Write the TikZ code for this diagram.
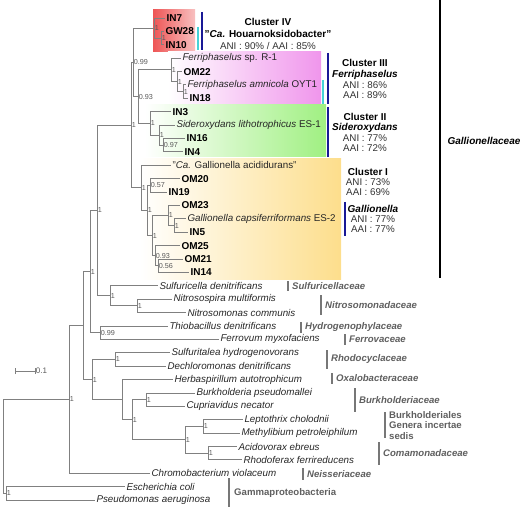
\documentclass[tikz,border=0pt]{standalone}
\usepackage{fontspec}
\setmainfont{Liberation Sans}
\definecolor{brc}{RGB}{128,128,128}
\definecolor{navyb}{RGB}{25,25,150}
\definecolor{cyanb}{RGB}{70,210,215}
\definecolor{famg}{RGB}{95,95,95}
\definecolor{redL}{RGB}{238,85,85}
\definecolor{redR}{RGB}{248,192,192}
\definecolor{pinkR}{RGB}{240,150,236}
\definecolor{greenR}{RGB}{160,240,130}
\definecolor{yelR}{RGB}{253,222,140}
\begin{document}
\begin{tikzpicture}[x=1pt,y=-1pt,
  br/.style={draw=brc,line width=0.9pt},
  iso/.style={anchor=west,inner sep=1.3pt,font=\bfseries\fontsize{10}{12}\selectfont},
  spc/.style={anchor=west,inner sep=1.3pt,font=\fontsize{9.8}{12}\selectfont,text=black!85},
  spi/.style={spc,font=\itshape\fontsize{9.8}{12}\selectfont},
  supp/.style={anchor=west,inner sep=0.7pt,font=\fontsize{7.2}{8}\selectfont,text=black!65},
  clt/.style={inner sep=0pt,font=\bfseries\fontsize{10}{12}\selectfont},
  ani/.style={inner sep=0pt,font=\fontsize{9.8}{12}\selectfont,text=black!80},
  fam/.style={anchor=west,inner sep=0pt,font=\bfseries\itshape\fontsize{9.6}{12}\selectfont,text=famg},
  famu/.style={anchor=west,inner sep=0pt,font=\bfseries\fontsize{9.6}{12}\selectfont,text=famg},
  fbar/.style={draw=famg!85,line width=2.2pt},
  nbar/.style={draw=navyb,line width=2.2pt},
  cbar/.style={draw=cyanb,line width=2.2pt}]
\useasboundingbox (0,0) rectangle (520,508);
% coloured cluster boxes
\shade[left color=redL,right color=redR] (153,10) rectangle (195,52);
\shade[left color=white,right color=pinkR] (168,52) rectangle (321,105);
\shade[left color=white,right color=greenR] (145,105) rectangle (326,157);
\shade[left color=white,right color=yelR] (140,159) rectangle (341,279);
% tips
\coordinate (t0) at (165,18.0);
\coordinate (t1) at (164,31.4);
\coordinate (t2) at (164,44.8);
\coordinate (t3) at (181,58.2);
\coordinate (t4) at (182,71.6);
\coordinate (t5) at (186,84.9);
\coordinate (t6) at (188,98.3);
\coordinate (t7) at (171,111.7);
\coordinate (t8) at (175,125.1);
\coordinate (t9) at (185,138.5);
\coordinate (t10) at (183,151.9);
\coordinate (t11) at (171,165.3);
\coordinate (t12) at (180,178.7);
\coordinate (t13) at (167,192.1);
\coordinate (t14) at (180,205.5);
\coordinate (t15) at (186,218.9);
\coordinate (t16) at (188,232.2);
\coordinate (t17) at (180,245.6);
\coordinate (t18) at (183,259.0);
\coordinate (t19) at (189,272.4);
\coordinate (t20) at (158,285.8);
\coordinate (t21) at (172,299.2);
\coordinate (t22) at (186,312.6);
\coordinate (t23) at (168,326.0);
\coordinate (t24) at (219,339.4);
\coordinate (t25) at (170,352.8);
\coordinate (t26) at (166,366.2);
\coordinate (t27) at (173,379.6);
\coordinate (t28) at (195,393.0);
\coordinate (t29) at (185,406.4);
\coordinate (t30) at (243,419.8);
\coordinate (t31) at (240,433.2);
\coordinate (t32) at (237,446.5);
\coordinate (t33) at (242,459.9);
\coordinate (t34) at (150,473.3);
\coordinate (t35) at (125,486.7);
\coordinate (t36) at (95,500.1);
% internal nodes
\coordinate (A2) at (161,38.1);
\coordinate (A) at (154,28.05);
\coordinate (F3) at (183,91.6);
\coordinate (F2) at (177,81.6);
\coordinate (F) at (171,69.9);
\coordinate (S3) at (163,145.2);
\coordinate (S2) at (159,135.2);
\coordinate (S) at (150,123.4);
\coordinate (V) at (138,96.7);
\coordinate (U) at (133,62.4);
\coordinate (L3) at (150,185.4);
\coordinate (L5b) at (174,225.6);
\coordinate (L5) at (168,215.5);
\coordinate (L6b) at (158,265.7);
\coordinate (L6) at (155,255.7);
\coordinate (L4) at (152,235.6);
\coordinate (L2) at (147,210.5);
\coordinate (L) at (141,187.9);
\coordinate (G) at (131,125.1);
\coordinate (NS) at (137,305.9);
\coordinate (SN) at (110,295.9);
\coordinate (Q) at (97,210.5);
\coordinate (TF) at (100,332.7);
\coordinate (Z) at (90,271.6);
\coordinate (Rh) at (115,359.5);
\coordinate (BC) at (146,399.7);
\coordinate (LM) at (203,426.5);
\coordinate (AR) at (208,453.2);
\coordinate (B3) at (185,439.9);
\coordinate (B2) at (132,419.8);
\coordinate (B1) at (122,399.7);
\coordinate (W) at (92,379.6);
\coordinate (Y) at (83,325.6);
\coordinate (X) at (69,399.5);
\coordinate (O) at (6,493.4);
\coordinate (R) at (3,446.4);
% branches
\foreach \p/\c in {A2/t1,A2/t2,A/t0,A/A2,F3/t5,F3/t6,F2/t4,F2/F3,F/t3,F/F2,
  S3/t9,S3/t10,S2/t8,S2/S3,S/t7,S/S2,V/F,V/S,U/A,U/V,L3/t12,L3/t13,
  L5b/t15,L5b/t16,L5/t14,L5/L5b,L6b/t18,L6b/t19,L6/t17,L6/L6b,L4/L5,L4/L6,
  L2/L3,L2/L4,L/t11,L/L2,G/U,G/L,NS/t21,NS/t22,SN/t20,SN/NS,Q/G,Q/SN,
  TF/t23,TF/t24,Z/Q,Z/TF,Rh/t25,Rh/t26,BC/t28,BC/t29,LM/t30,LM/t31,
  AR/t32,AR/t33,B3/LM,B3/AR,B2/BC,B2/B3,B1/t27,B1/B2,W/Rh,W/B1,Y/Z,Y/W,
  X/Y,X/t34,O/t35,O/t36,R/X,R/O}
  \draw[br] (\p) |- (\c);
% support values
\foreach \n/\v in {A2/1,A/1,F3/1,F2/1,F/1,S3/0.97,S2/1,S/1,V/0.93,U/0.99,
  L3/0.57,L5b/1,L5/1,L6b/0.56,L6/0.93,L4/1,L2/1,L/1,G/1,NS/1,SN/1,Q/1,
  TF/0.99,Z/1,Rh/1,BC/1,LM/1,AR/1,B3/1,B2/1,W/1,X/1,O/1}
  \node[supp] (s\n) at (\n) {\v};
% tip labels
\node[iso] (l0) at (t0) {IN7};
\node[iso] (l1) at (t1) {GW28};
\node[iso] (l2) at (t2) {IN10};
\node[spc] (l3) at (t3) {\textit{Ferriphaselus} sp. R-1};
\node[iso] (l4) at (t4) {OM22};
\node[spc] (l5) at (t5) {\textit{Ferriphaselus amnicola} OYT1};
\node[iso] (l6) at (t6) {IN18};
\node[iso] (l7) at (t7) {IN3};
\node[spc] (l8) at (t8) {\textit{Sideroxydans lithotrophicus} ES-1};
\node[iso] (l9) at (t9) {IN16};
\node[iso] (l10) at (t10) {IN4};
\node[spc] (l11) at (t11) {"\textit{Ca.} Gallionella acididurans"};
\node[iso] (l12) at (t12) {OM20};
\node[iso] (l13) at (t13) {IN19};
\node[iso] (l14) at (t14) {OM23};
\node[spc] (l15) at (t15) {\textit{Gallionella capsiferriformans} ES-2};
\node[iso] (l16) at (t16) {IN5};
\node[iso] (l17) at (t17) {OM25};
\node[iso] (l18) at (t18) {OM21};
\node[iso] (l19) at (t19) {IN14};
\node[spi] (l20) at (t20) {Sulfuricella denitrificans};
\node[spi] (l21) at (t21) {Nitrosospira multiformis};
\node[spi] (l22) at (t22) {Nitrosomonas communis};
\node[spi] (l23) at (t23) {Thiobacillus denitrificans};
\node[spi] (l24) at (t24) {Ferrovum myxofaciens};
\node[spi] (l25) at (t25) {Sulfuritalea hydrogenovorans};
\node[spi] (l26) at (t26) {Dechloromonas denitrificans};
\node[spi] (l27) at (t27) {Herbaspirillum autotrophicum};
\node[spi] (l28) at (t28) {Burkholderia pseudomallei};
\node[spi] (l29) at (t29) {Cupriavidus necator};
\node[spi] (l30) at (t30) {Leptothrix cholodnii};
\node[spi] (l31) at (t31) {Methylibium petroleiphilum};
\node[spi] (l32) at (t32) {Acidovorax ebreus};
\node[spi] (l33) at (t33) {Rhodoferax ferrireducens};
\node[spi] (l34) at (t34) {Chromobacterium violaceum};
\node[spi] (l35) at (t35) {Escherichia coli};
\node[spi] (l36) at (t36) {Pseudomonas aeruginosa};
% cluster bars
\draw[nbar] (202,12) -- (202,50);
\draw[cbar] (198,27) -- (198,50);
\draw[nbar] (328,53) -- (328,104);
\draw[cbar] (323,80) -- (323,104);
\draw[nbar] (328,107) -- (328,157);
\draw[nbar] (345,202) -- (345,236);
\draw[line width=2.5pt] (440,0) -- (440,278);
% cluster labels
\node[clt] (c4a) at (268,22) {Cluster IV};
\node[clt] (c4b) at (268,34) {"\textit{Ca.} Houarnoksidobacter"};
\node[ani] (c4c) at (268,46) {ANI : 90\% / AAI : 85\%};
\node[clt] (c3a) at (365,63) {Cluster III};
\node[clt] (c3b) at (365,74.5) {\itshape Ferriphaselus};
\node[ani] (c3c) at (365,85) {ANI : 86\%};
\node[ani] (c3d) at (365,95) {AAI : 89\%};
\node[clt] (c2a) at (365,116.5) {Cluster II};
\node[clt] (c2b) at (365,127.5) {\itshape Sideroxydans};
\node[ani] (c2c) at (365,138) {ANI : 77\%};
\node[ani] (c2d) at (365,148) {AAI : 72\%};
\node[clt] (c1a) at (368,172) {Cluster I};
\node[ani] (c1b) at (368,182) {ANI : 73\%};
\node[ani] (c1c) at (368,192) {AAI : 69\%};
\node[clt] (gla) at (373,209) {\itshape Gallionella};
\node[ani] (glb) at (373,219) {ANI : 77\%};
\node[ani] (glc) at (373,229) {AAI : 77\%};
\node[clt] (gfam) at (484,141) {\itshape Gallionellaceae};
% family bars and labels
\draw[fbar] (288,281) -- (288,291);
\node[fam] (f1) at (292,286) {Sulfuricellaceae};
\draw[fbar] (321,295) -- (321,315);
\node[fam] (f2) at (325,305) {Nitrosomonadaceae};
\draw[fbar] (301,322) -- (301,333);
\node[fam] (f3) at (305,327.5) {Hydrogenophylaceae};
\draw[fbar] (345,334) -- (345,345);
\node[fam] (f4) at (349,339.5) {Ferrovaceae};
\draw[fbar] (327,350) -- (327,369);
\node[fam] (f5) at (331,359.5) {Rhodocyclaceae};
\draw[fbar] (332,373) -- (332,384);
\node[fam] (f6) at (336,378.5) {Oxalobacteraceae};
\draw[fbar] (355,388) -- (355,412);
\node[fam] (f7) at (359,400) {Burkholderiaceae};
\draw[fbar] (385,412) -- (385,438);
\node[famu] (f8a) at (389,415) {Burkholderiales};
\node[famu] (f8b) at (389,425.5) {Genera incertae};
\node[famu] (f8c) at (389,436) {sedis};
\draw[fbar] (379,442) -- (379,465);
\node[fam] (f9) at (383,453.5) {Comamonadaceae};
\draw[fbar] (303,468) -- (303,480);
\node[fam] (f10) at (307,474) {Neisseriaceae};
\draw[fbar] (229,478) -- (229,507);
\node[famu] (f11) at (234,493) {Gammaproteobacteria};
% scale bar
\coordinate (sb1) at (15,371);
\coordinate (sb2) at (35,371);
\draw[br] (sb1) -- (sb2);
\draw[br] ([yshift=-3pt]sb1) -- ([yshift=3pt]sb1);
\draw[br] ([yshift=-3pt]sb2) -- ([yshift=3pt]sb2);
\node[supp,font=\fontsize{8}{9}\selectfont] (sbl) at (sb2) {0.1};
\end{tikzpicture}
\end{document}
